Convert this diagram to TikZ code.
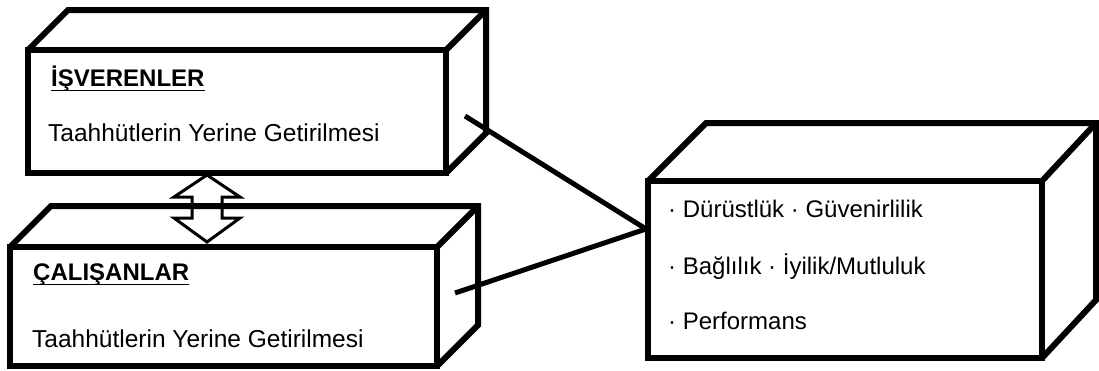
\documentclass[tikz,border=0pt]{standalone}
\usepackage{fontspec}
\setmainfont{Liberation Sans}
\begin{document}
\begin{tikzpicture}[x=1pt,y=-1pt,
  boxline/.style={line width=6pt,line join=miter,black},
  conn/.style={line width=5pt,black},
  txt/.style={anchor=base west,inner sep=0pt,font=\fontsize{24.5}{28}\selectfont},
  lst/.style={anchor=base west,inner sep=0pt,font=\fontsize{24}{28}\selectfont},
  ttl/.style={anchor=base west,inner sep=0pt,font=\fontsize{24}{28}\selectfont\bfseries},
  uline/.style={line width=1.8pt,black},
  dblarrow/.style={line width=3pt,line join=miter,black}]
\useasboundingbox (0,0) rectangle (1099,370);
% box 1
\draw[boxline] (28,50) rectangle (446,173);
\draw[boxline] (28,50) -- (68,10) -- (486,10) -- (486,133) -- (446,173);
\draw[boxline] (446,50) -- (486,10);
% box 2
\draw[boxline] (10,247) rectangle (437,366);
\draw[boxline] (10,247) -- (51,206) -- (478,206) -- (478,325) -- (437,366);
\draw[boxline] (437,247) -- (478,206);
% box 3
\draw[boxline] (648,181) rectangle (1042,358);
\draw[boxline] (648,181) -- (706,123) -- (1096,123) -- (1096,300) -- (1042,358);
\draw[boxline] (1042,181) -- (1096,123);
% texts
\node[ttl] (t1) at (51,86) {İŞVERENLER};
\draw[uline] ([yshift=-4.5pt]t1.base west) -- ([yshift=-4.5pt]t1.base east);
\node[txt] (b1) at (48,141) {Taahhütlerin Yerine Getirilmesi};
\node[ttl] (t2) at (33,280) {ÇALIŞANLAR};
\draw[uline] ([yshift=-4.5pt]t2.base west) -- ([yshift=-4.5pt]t2.base east);
\node[txt] (b2) at (32,347) {Taahhütlerin Yerine Getirilmesi};
\node[lst] (r1) at (668,217) {· Dürüstlük · Güvenirlilik};
\node[lst] (r2) at (668,274) {· Bağlılık · İyilik/Mutluluk};
\node[lst] (r3) at (668,329) {· Performans};
% double arrow
\draw[dblarrow] (207,175) -- (240,197) -- (222,197) -- (222,218) -- (240,218) -- (207,242)
  -- (174,218) -- (192,218) -- (192,197) -- (174,197) -- cycle;
% connectors
\coordinate (e1) at (465,116);
\coordinate (e2) at (455,293);
\coordinate (m) at (646,229);
\draw[conn] (e1) -- (m);
\draw[conn] (e2) -- (m);
\end{tikzpicture}
\end{document}
